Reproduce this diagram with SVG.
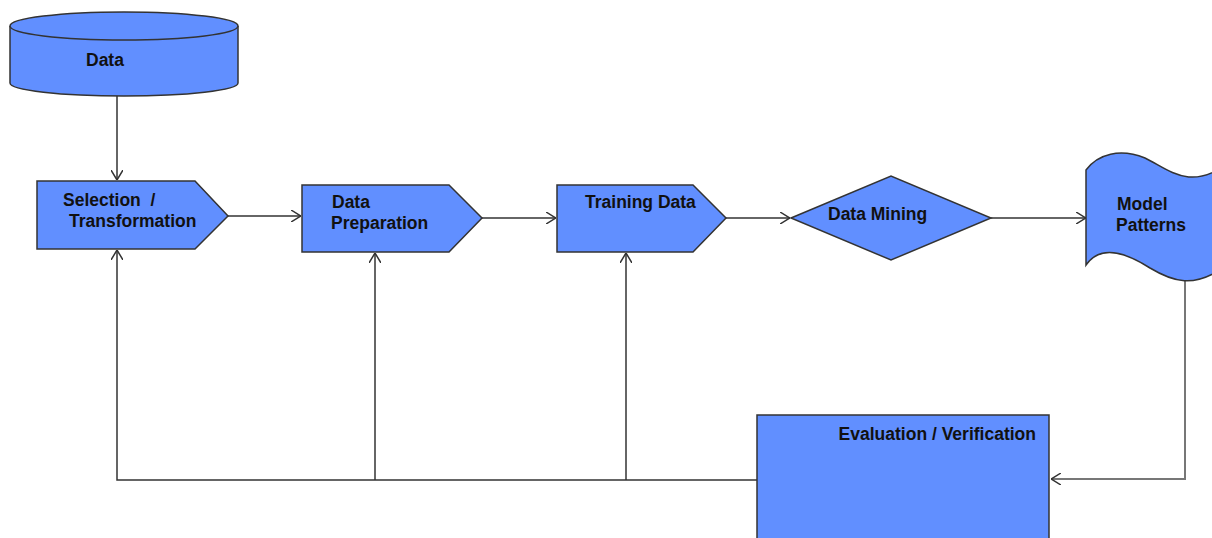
<svg xmlns="http://www.w3.org/2000/svg" width="1212" height="538" viewBox="0 0 1212 538">
<style>
.shape{fill:#618FFF;stroke:#333;stroke-width:1.5}
.lbl{font-family:"Liberation Sans",Arial,sans-serif;font-weight:bold;font-size:17.5px;fill:#111}
.conn{fill:none;stroke:#333;stroke-width:1.5}
.conn2{fill:none;stroke:#777;stroke-width:2}
</style>
<defs>
<marker id="arr" viewBox="0 0 10 12" markerWidth="10" markerHeight="12" refX="10" refY="6" orient="auto" markerUnits="userSpaceOnUse">
<path d="M0,0 L10,6 L0,12" fill="none" stroke="#333" stroke-width="1.5"/>
</marker>
</defs>
<rect width="1212" height="538" fill="#fff"/>
<g id="connectors">
<path class="conn" d="M117,96 V180" marker-end="url(#arr)"/>
<path class="conn" d="M228,216 H301" marker-end="url(#arr)"/>
<path class="conn" d="M482,218 H556" marker-end="url(#arr)"/>
<path class="conn" d="M726,218 H790" marker-end="url(#arr)"/>
<path class="conn" d="M991,218 H1086" marker-end="url(#arr)"/>
<path class="conn2" d="M1185,280 V479 H1051" marker-end="url(#arr)"/>
<path class="conn" d="M757,480 H117 V250" marker-end="url(#arr)"/>
<path class="conn" d="M375,480 V253" marker-end="url(#arr)"/>
<path class="conn" d="M626,480 V253" marker-end="url(#arr)"/>
</g>
<g id="data">
<path class="shape" d="M10,26 V83 A114,13 0 0 0 238,83 V26"/>
<ellipse class="shape" cx="124" cy="26" rx="114" ry="14"/>
<text class="lbl" x="86" y="66">Data</text>
</g>
<g id="selection">
<polygon class="shape" points="37,181 195,181 228,216 195,249 37,249"/>
<text class="lbl" x="63" y="206" xml:space="preserve">Selection  /</text>
<text class="lbl" x="69" y="227">Transformation</text>
</g>
<g id="preparation">
<polygon class="shape" points="302,185 449,185 482,218 449,252 302,252"/>
<text class="lbl" x="332" y="208">Data</text>
<text class="lbl" x="331" y="229">Preparation</text>
</g>
<g id="training">
<polygon class="shape" points="557,185 693,185 726,218 693,252 557,252"/>
<text class="lbl" x="585" y="208">Training Data</text>
</g>
<g id="mining">
<polygon class="shape" points="791,218 891,176 991,218 891,260"/>
<text class="lbl" x="828" y="220">Data Mining</text>
</g>
<g id="model">
<path class="shape" d="M1086,170 C1098,154 1120,148 1145,158 C1170,170 1190,192 1230,162 L1230,262 C1195,292 1170,280 1150,268 C1125,252 1100,245 1086,265 Z"/>
<text class="lbl" x="1117" y="210">Model</text>
<text class="lbl" x="1116" y="231">Patterns</text>
</g>
<g id="evaluation">
<rect class="shape" x="757" y="415" width="292" height="140"/>
<text class="lbl" x="1036" y="440" text-anchor="end">Evaluation / Verification</text>
</g>
</svg>
